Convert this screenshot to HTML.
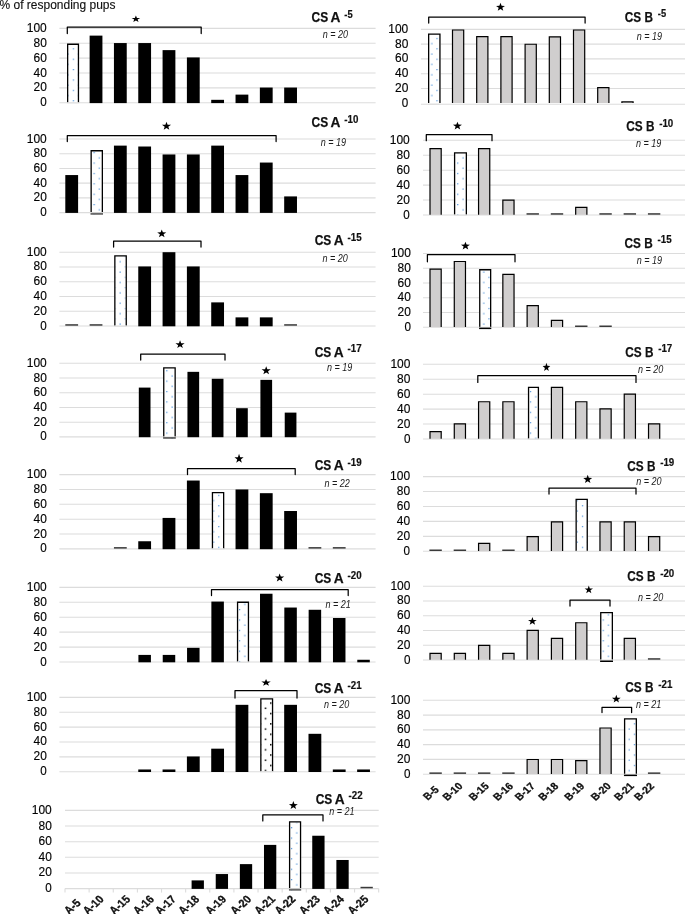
<!DOCTYPE html>
<html lang="en"><head><meta charset="utf-8"><title>% of responding pups</title>
<style>
html,body{margin:0;padding:0;background:#fff}
body{width:685px;height:914px;overflow:hidden}
svg{display:block;will-change:transform}
text{font-family:"Liberation Sans", sans-serif;fill:#111}
.g{stroke:#dcdcdc;stroke-width:1.1;fill:none}
.br{stroke:#000;stroke-width:1.25;fill:none;stroke-linejoin:round;stroke-linecap:round}
.bb{fill:#000}
.gb{fill:#d0cece;stroke:#000;stroke-width:1.2;stroke-linejoin:miter}
.tb{fill:#3a3a3a}
.ds{stroke:#000;stroke-width:1.3;fill:none;stroke-linejoin:miter}
.yl{font-size:12px;text-anchor:end;fill:#000;stroke:#000;stroke-width:.15}
.tt{font-size:15.1px;font-weight:bold;stroke:#111;stroke-width:.25}
.sp{font-size:10.3px;font-weight:bold;stroke:#111;stroke-width:.2}
.nn{font-size:10.1px;font-style:italic;fill:#1a1a1a}
.xl{font-size:10.2px;font-weight:bold;text-anchor:end;stroke:#111;stroke-width:.3}
.xa{font-size:10.9px}
.star{fill:#000}
</style></head><body>
<svg width="685" height="914" viewBox="0 0 685 914">
<defs>
<pattern id="db" patternUnits="userSpaceOnUse" x="72.75" y="48.25" width="10.39" height="10.385">
<rect x="0" y="0" width="1.2" height="1.2" fill="#4a90d9"/><rect x="5.24" y="5.2" width="1.2" height="1.2" fill="#4a90d9"/>
</pattern>
<pattern id="dk" patternUnits="userSpaceOnUse" x="72.6" y="48.1" width="10.39" height="10.385">
<rect x="0" y="0" width="1.5" height="1.5" fill="#000"/><rect x="5.24" y="5.2" width="1.5" height="1.5" fill="#000"/>
</pattern>
</defs>
<text x="-0.5" y="9" font-size="12px" fill="#000" stroke="#000" stroke-width=".12" textLength="116" lengthAdjust="spacingAndGlyphs">% of responding pups</text>

<g>
<line class="g" x1="59.4" x2="375.6" y1="102.8" y2="102.8"/>
<text class="yl" x="46.8" y="106.3" textLength="6.5" lengthAdjust="spacingAndGlyphs">0</text>
<line class="g" x1="59.4" x2="375.6" y1="87.92" y2="87.92"/>
<text class="yl" x="46.8" y="91.42" textLength="13.3" lengthAdjust="spacingAndGlyphs">20</text>
<line class="g" x1="59.4" x2="375.6" y1="73.04" y2="73.04"/>
<text class="yl" x="46.8" y="76.54" textLength="13.3" lengthAdjust="spacingAndGlyphs">40</text>
<line class="g" x1="59.4" x2="375.6" y1="58.16" y2="58.16"/>
<text class="yl" x="46.8" y="61.66" textLength="13.3" lengthAdjust="spacingAndGlyphs">60</text>
<line class="g" x1="59.4" x2="375.6" y1="43.28" y2="43.28"/>
<text class="yl" x="46.8" y="46.78" textLength="13.3" lengthAdjust="spacingAndGlyphs">80</text>
<line class="g" x1="59.4" x2="375.6" y1="28.4" y2="28.4"/>
<text class="yl" x="46.8" y="31.9" textLength="20" lengthAdjust="spacingAndGlyphs">100</text>
<rect x="67" y="43.6" width="12.1" height="59.2" fill="#fff"/>
<rect x="68.3" y="44.9" width="9.5" height="57.9" fill="url(#db)"/>
<path class="ds" d="M67.65 102.5 V44.25 H78.45 V102.5"/>
<line class="g" x1="67" x2="79.1" y1="102.8" y2="102.8"/>
<rect class="bb" x="89.62" y="35.62" width="12.8" height="67.48"/>
<rect class="bb" x="113.94" y="43.06" width="12.8" height="60.04"/>
<rect class="bb" x="138.26" y="43.06" width="12.8" height="60.04"/>
<rect class="bb" x="162.58" y="50.12" width="12.8" height="52.98"/>
<rect class="bb" x="186.9" y="57.42" width="12.8" height="45.68"/>
<rect class="bb" x="211.22" y="99.82" width="12.8" height="3.28"/>
<rect class="bb" x="235.54" y="94.62" width="12.8" height="8.48"/>
<rect class="bb" x="259.86" y="87.55" width="12.8" height="15.55"/>
<rect class="bb" x="284.18" y="87.55" width="12.8" height="15.55"/>
<path class="br" d="M67.3 33.6 V27.1 H201.2 V33.6"/>
<polygon class="star" points="135.9,15.5 136.96,17.97 140.18,18.02 137.61,19.6 138.55,22.1 135.9,20.61 133.25,22.1 134.19,19.6 131.62,18.02 134.84,17.97"/>
<text class="tt" y="22.2"><tspan x="311.5" textLength="16.6" lengthAdjust="spacingAndGlyphs">CS</tspan> <tspan x="330.6" textLength="9.9" lengthAdjust="spacingAndGlyphs">A</tspan></text>
<text class="sp" x="344.3" y="18" textLength="8.3" lengthAdjust="spacingAndGlyphs">-5</text>
<text class="nn" x="322.8" y="37.8" textLength="25.3" lengthAdjust="spacingAndGlyphs">n = 20</text>
</g>
<g>
<line class="g" x1="59.4" x2="375.6" y1="212.6" y2="212.6"/>
<text class="yl" x="46.8" y="216.1" textLength="6.5" lengthAdjust="spacingAndGlyphs">0</text>
<line class="g" x1="59.4" x2="375.6" y1="197.88" y2="197.88"/>
<text class="yl" x="46.8" y="201.38" textLength="13.3" lengthAdjust="spacingAndGlyphs">20</text>
<line class="g" x1="59.4" x2="375.6" y1="183.16" y2="183.16"/>
<text class="yl" x="46.8" y="186.66" textLength="13.3" lengthAdjust="spacingAndGlyphs">40</text>
<line class="g" x1="59.4" x2="375.6" y1="168.44" y2="168.44"/>
<text class="yl" x="46.8" y="171.94" textLength="13.3" lengthAdjust="spacingAndGlyphs">60</text>
<line class="g" x1="59.4" x2="375.6" y1="153.72" y2="153.72"/>
<text class="yl" x="46.8" y="157.22" textLength="13.3" lengthAdjust="spacingAndGlyphs">80</text>
<line class="g" x1="59.4" x2="375.6" y1="139" y2="139"/>
<text class="yl" x="46.8" y="142.5" textLength="20" lengthAdjust="spacingAndGlyphs">100</text>
<rect class="bb" x="65.3" y="175.06" width="12.8" height="37.84"/>
<rect x="90.5" y="150.1" width="12.5" height="64.7" fill="#fff"/>
<rect x="91.8" y="151.4" width="9.9" height="63.4" fill="url(#db)"/>
<path class="ds" d="M91.15 212 V150.75 H102.35 V212"/>
<line class="g" x1="90.5" x2="103" y1="212.6" y2="212.6"/>
<rect x="90.5" y="212.9" width="12.5" height="1.9" fill="#6a6a6a"/>
<rect class="bb" x="113.94" y="145.62" width="12.8" height="67.28"/>
<rect class="bb" x="138.26" y="146.51" width="12.8" height="66.39"/>
<rect class="bb" x="162.58" y="154.46" width="12.8" height="58.44"/>
<rect class="bb" x="186.9" y="154.46" width="12.8" height="58.44"/>
<rect class="bb" x="211.22" y="145.62" width="12.8" height="67.28"/>
<rect class="bb" x="235.54" y="175.06" width="12.8" height="37.84"/>
<rect class="bb" x="259.86" y="162.55" width="12.8" height="50.35"/>
<rect class="bb" x="284.18" y="196.41" width="12.8" height="16.49"/>
<path class="br" d="M67.3 141.6 V135.6 H276.1 V141.6"/>
<polygon class="star" points="166.5,121.73 167.62,124.77 171.05,124.84 168.32,126.79 169.31,129.87 166.5,128.03 163.69,129.87 164.68,126.79 161.95,124.84 165.38,124.77"/>
<text class="tt" y="127.3"><tspan x="311.5" textLength="16.6" lengthAdjust="spacingAndGlyphs">CS</tspan> <tspan x="330.6" textLength="9.9" lengthAdjust="spacingAndGlyphs">A</tspan></text>
<text class="sp" x="344.3" y="123.1" textLength="14.1" lengthAdjust="spacingAndGlyphs">-10</text>
<text class="nn" x="320.8" y="145.7" textLength="25.3" lengthAdjust="spacingAndGlyphs">n = 19</text>
</g>
<g>
<line class="g" x1="59.4" x2="375.6" y1="326" y2="326"/>
<text class="yl" x="46.8" y="329.5" textLength="6.5" lengthAdjust="spacingAndGlyphs">0</text>
<line class="g" x1="59.4" x2="375.6" y1="311.24" y2="311.24"/>
<text class="yl" x="46.8" y="314.74" textLength="13.3" lengthAdjust="spacingAndGlyphs">20</text>
<line class="g" x1="59.4" x2="375.6" y1="296.48" y2="296.48"/>
<text class="yl" x="46.8" y="299.98" textLength="13.3" lengthAdjust="spacingAndGlyphs">40</text>
<line class="g" x1="59.4" x2="375.6" y1="281.72" y2="281.72"/>
<text class="yl" x="46.8" y="285.22" textLength="13.3" lengthAdjust="spacingAndGlyphs">60</text>
<line class="g" x1="59.4" x2="375.6" y1="266.96" y2="266.96"/>
<text class="yl" x="46.8" y="270.46" textLength="13.3" lengthAdjust="spacingAndGlyphs">80</text>
<line class="g" x1="59.4" x2="375.6" y1="252.2" y2="252.2"/>
<text class="yl" x="46.8" y="255.7" textLength="20" lengthAdjust="spacingAndGlyphs">100</text>
<rect class="tb" x="65.3" y="324.2" width="12.8" height="1.5"/>
<rect class="tb" x="89.62" y="324.2" width="12.8" height="1.5"/>
<rect x="114.2" y="255.25" width="12.7" height="70.75" fill="#fff"/>
<rect x="115.5" y="256.55" width="10.1" height="69.45" fill="url(#db)"/>
<path class="ds" d="M114.85 325.7 V255.9 H126.25 V325.7"/>
<line class="g" x1="114.2" x2="126.9" y1="326" y2="326"/>
<rect class="bb" x="138.26" y="266.44" width="12.8" height="59.86"/>
<rect class="bb" x="162.58" y="252.2" width="12.8" height="74.1"/>
<rect class="bb" x="186.9" y="266.44" width="12.8" height="59.86"/>
<rect class="bb" x="211.22" y="302.38" width="12.8" height="23.92"/>
<rect class="bb" x="235.54" y="317.37" width="12.8" height="8.93"/>
<rect class="bb" x="259.86" y="317.37" width="12.8" height="8.93"/>
<rect class="tb" x="284.18" y="324.2" width="12.8" height="1.5"/>
<path class="br" d="M113.6 247 V241 H201 V247"/>
<polygon class="star" points="161.75,229.45 162.87,232.33 166.3,232.39 163.57,234.23 164.56,237.15 161.75,235.41 158.94,237.15 159.93,234.23 157.2,232.39 160.63,232.33"/>
<text class="tt" y="245.3"><tspan x="314.7" textLength="16.6" lengthAdjust="spacingAndGlyphs">CS</tspan> <tspan x="333.8" textLength="9.9" lengthAdjust="spacingAndGlyphs">A</tspan></text>
<text class="sp" x="347.5" y="241.1" textLength="14.1" lengthAdjust="spacingAndGlyphs">-15</text>
<text class="nn" x="322.5" y="262" textLength="25.3" lengthAdjust="spacingAndGlyphs">n = 20</text>
</g>
<g>
<line class="g" x1="59.4" x2="375.6" y1="436.9" y2="436.9"/>
<text class="yl" x="46.8" y="440.4" textLength="6.5" lengthAdjust="spacingAndGlyphs">0</text>
<line class="g" x1="59.4" x2="375.6" y1="422.18" y2="422.18"/>
<text class="yl" x="46.8" y="425.68" textLength="13.3" lengthAdjust="spacingAndGlyphs">20</text>
<line class="g" x1="59.4" x2="375.6" y1="407.46" y2="407.46"/>
<text class="yl" x="46.8" y="410.96" textLength="13.3" lengthAdjust="spacingAndGlyphs">40</text>
<line class="g" x1="59.4" x2="375.6" y1="392.74" y2="392.74"/>
<text class="yl" x="46.8" y="396.24" textLength="13.3" lengthAdjust="spacingAndGlyphs">60</text>
<line class="g" x1="59.4" x2="375.6" y1="378.02" y2="378.02"/>
<text class="yl" x="46.8" y="381.52" textLength="13.3" lengthAdjust="spacingAndGlyphs">80</text>
<line class="g" x1="59.4" x2="375.6" y1="363.3" y2="363.3"/>
<text class="yl" x="46.8" y="366.8" textLength="20" lengthAdjust="spacingAndGlyphs">100</text>
<rect class="bb" x="138.81" y="387.59" width="11.7" height="49.61"/>
<rect x="163.1" y="367.2" width="12.7" height="71.5" fill="#fff"/>
<rect x="164.4" y="368.5" width="10.1" height="70.2" fill="url(#db)"/>
<path class="ds" d="M163.75 436.7 V367.85 H175.15 V436.7"/>
<line class="g" x1="163.1" x2="175.8" y1="436.9" y2="436.9" opacity=".8"/>
<rect x="163.1" y="437.2" width="12.7" height="1.5" fill="#444"/>
<rect class="bb" x="187.45" y="371.84" width="11.7" height="65.36"/>
<rect class="bb" x="211.77" y="378.76" width="11.7" height="58.44"/>
<rect class="bb" x="236.09" y="408.2" width="11.7" height="29"/>
<rect class="bb" x="260.41" y="379.86" width="11.7" height="57.34"/>
<rect class="bb" x="284.73" y="412.61" width="11.7" height="24.59"/>
<path class="br" d="M140.7 360 V354 H225 V360"/>
<polygon class="star" points="180.05,340.31 181.19,343.22 184.65,343.28 181.89,345.14 182.89,348.09 180.05,346.33 177.21,348.09 178.21,345.14 175.45,343.28 178.91,343.22"/>
<polygon class="star" points="266.2,366.37 267.34,369.31 270.81,369.37 268.05,371.25 269.05,374.23 266.2,372.46 263.35,374.23 264.35,371.25 261.59,369.37 265.06,369.31"/>
<text class="tt" y="356.5"><tspan x="314.7" textLength="16.6" lengthAdjust="spacingAndGlyphs">CS</tspan> <tspan x="333.8" textLength="9.9" lengthAdjust="spacingAndGlyphs">A</tspan></text>
<text class="sp" x="347.5" y="352.3" textLength="14.1" lengthAdjust="spacingAndGlyphs">-17</text>
<text class="nn" x="327" y="371" textLength="25.3" lengthAdjust="spacingAndGlyphs">n = 19</text>
</g>
<g>
<line class="g" x1="59.4" x2="375.6" y1="548.9" y2="548.9"/>
<text class="yl" x="46.8" y="552.4" textLength="6.5" lengthAdjust="spacingAndGlyphs">0</text>
<line class="g" x1="59.4" x2="375.6" y1="534.04" y2="534.04"/>
<text class="yl" x="46.8" y="537.54" textLength="13.3" lengthAdjust="spacingAndGlyphs">20</text>
<line class="g" x1="59.4" x2="375.6" y1="519.18" y2="519.18"/>
<text class="yl" x="46.8" y="522.68" textLength="13.3" lengthAdjust="spacingAndGlyphs">40</text>
<line class="g" x1="59.4" x2="375.6" y1="504.32" y2="504.32"/>
<text class="yl" x="46.8" y="507.82" textLength="13.3" lengthAdjust="spacingAndGlyphs">60</text>
<line class="g" x1="59.4" x2="375.6" y1="489.46" y2="489.46"/>
<text class="yl" x="46.8" y="492.96" textLength="13.3" lengthAdjust="spacingAndGlyphs">80</text>
<line class="g" x1="59.4" x2="375.6" y1="474.6" y2="474.6"/>
<text class="yl" x="46.8" y="478.1" textLength="20" lengthAdjust="spacingAndGlyphs">100</text>
<rect class="tb" x="113.94" y="547.1" width="12.8" height="1.5"/>
<rect class="bb" x="138.26" y="541.25" width="12.8" height="7.95"/>
<rect class="bb" x="162.58" y="517.92" width="12.8" height="31.28"/>
<rect class="bb" x="186.9" y="480.54" width="12.8" height="68.66"/>
<rect x="211.8" y="492" width="12.5" height="56.9" fill="#fff"/>
<rect x="213.1" y="493.3" width="9.9" height="55.6" fill="url(#db)"/>
<path class="ds" d="M212.45 548.6 V492.65 H223.65 V548.6"/>
<line class="g" x1="211.8" x2="224.3" y1="548.9" y2="548.9"/>
<rect class="bb" x="235.54" y="489.46" width="12.8" height="59.74"/>
<rect class="bb" x="259.86" y="493.18" width="12.8" height="56.02"/>
<rect class="bb" x="284.18" y="511.01" width="12.8" height="38.19"/>
<rect class="tb" x="308.5" y="547.1" width="12.8" height="1.5"/>
<rect class="tb" x="332.82" y="547.1" width="12.8" height="1.5"/>
<path class="br" d="M187.5 474.5 V468.5 H295.2 V474.5"/>
<polygon class="star" points="239.05,453.78 240.17,457.16 243.6,457.23 240.87,459.4 241.86,462.82 239.05,460.78 236.24,462.82 237.23,459.4 234.5,457.23 237.93,457.16"/>
<text class="tt" y="469.8"><tspan x="314.7" textLength="16.6" lengthAdjust="spacingAndGlyphs">CS</tspan> <tspan x="333.8" textLength="9.9" lengthAdjust="spacingAndGlyphs">A</tspan></text>
<text class="sp" x="347.5" y="465.6" textLength="14.1" lengthAdjust="spacingAndGlyphs">-19</text>
<text class="nn" x="324.5" y="486.5" textLength="25.3" lengthAdjust="spacingAndGlyphs">n = 22</text>
</g>
<g>
<line class="g" x1="59.4" x2="375.6" y1="662" y2="662"/>
<text class="yl" x="46.8" y="665.5" textLength="6.5" lengthAdjust="spacingAndGlyphs">0</text>
<line class="g" x1="59.4" x2="375.6" y1="647.08" y2="647.08"/>
<text class="yl" x="46.8" y="650.58" textLength="13.3" lengthAdjust="spacingAndGlyphs">20</text>
<line class="g" x1="59.4" x2="375.6" y1="632.16" y2="632.16"/>
<text class="yl" x="46.8" y="635.66" textLength="13.3" lengthAdjust="spacingAndGlyphs">40</text>
<line class="g" x1="59.4" x2="375.6" y1="617.24" y2="617.24"/>
<text class="yl" x="46.8" y="620.74" textLength="13.3" lengthAdjust="spacingAndGlyphs">60</text>
<line class="g" x1="59.4" x2="375.6" y1="602.32" y2="602.32"/>
<text class="yl" x="46.8" y="605.82" textLength="13.3" lengthAdjust="spacingAndGlyphs">80</text>
<line class="g" x1="59.4" x2="375.6" y1="587.4" y2="587.4"/>
<text class="yl" x="46.8" y="590.9" textLength="20" lengthAdjust="spacingAndGlyphs">100</text>
<rect class="bb" x="138.41" y="654.91" width="12.5" height="7.39"/>
<rect class="bb" x="162.73" y="654.91" width="12.5" height="7.39"/>
<rect class="bb" x="187.05" y="647.83" width="12.5" height="14.47"/>
<rect class="bb" x="211.37" y="601.57" width="12.5" height="60.73"/>
<rect x="236.9" y="601.6" width="12.2" height="60.4" fill="#fff"/>
<rect x="238.2" y="602.9" width="9.6" height="59.1" fill="url(#db)"/>
<path class="ds" d="M237.55 661.7 V602.25 H248.45 V661.7"/>
<line class="g" x1="236.9" x2="249.1" y1="662" y2="662"/>
<rect class="bb" x="260.01" y="593.74" width="12.5" height="68.56"/>
<rect class="bb" x="284.33" y="607.54" width="12.5" height="54.76"/>
<rect class="bb" x="308.65" y="609.78" width="12.5" height="52.52"/>
<rect class="bb" x="332.97" y="617.99" width="12.5" height="44.31"/>
<rect class="bb" x="357.29" y="659.76" width="12.5" height="2.54"/>
<path class="br" d="M211.5 595.5 V589.5 H348.2 V595.5"/>
<polygon class="star" points="279.65,573.43 280.79,576.47 284.25,576.54 281.49,578.49 282.49,581.57 279.65,579.73 276.81,581.57 277.81,578.49 275.05,576.54 278.51,576.47"/>
<text class="tt" y="583.3"><tspan x="314.7" textLength="16.6" lengthAdjust="spacingAndGlyphs">CS</tspan> <tspan x="333.8" textLength="9.9" lengthAdjust="spacingAndGlyphs">A</tspan></text>
<text class="sp" x="347.5" y="579.1" textLength="14.1" lengthAdjust="spacingAndGlyphs">-20</text>
<text class="nn" x="325.5" y="607.5" textLength="25.3" lengthAdjust="spacingAndGlyphs">n = 21</text>
</g>
<g>
<line class="g" x1="59.4" x2="375.6" y1="771.7" y2="771.7"/>
<text class="yl" x="46.8" y="775.2" textLength="6.5" lengthAdjust="spacingAndGlyphs">0</text>
<line class="g" x1="59.4" x2="375.6" y1="756.84" y2="756.84"/>
<text class="yl" x="46.8" y="760.34" textLength="13.3" lengthAdjust="spacingAndGlyphs">20</text>
<line class="g" x1="59.4" x2="375.6" y1="741.98" y2="741.98"/>
<text class="yl" x="46.8" y="745.48" textLength="13.3" lengthAdjust="spacingAndGlyphs">40</text>
<line class="g" x1="59.4" x2="375.6" y1="727.12" y2="727.12"/>
<text class="yl" x="46.8" y="730.62" textLength="13.3" lengthAdjust="spacingAndGlyphs">60</text>
<line class="g" x1="59.4" x2="375.6" y1="712.26" y2="712.26"/>
<text class="yl" x="46.8" y="715.76" textLength="13.3" lengthAdjust="spacingAndGlyphs">80</text>
<line class="g" x1="59.4" x2="375.6" y1="697.4" y2="697.4"/>
<text class="yl" x="46.8" y="700.9" textLength="20" lengthAdjust="spacingAndGlyphs">100</text>
<rect class="bb" x="138.26" y="769.47" width="12.8" height="2.53"/>
<rect class="bb" x="162.58" y="769.47" width="12.8" height="2.53"/>
<rect class="bb" x="186.9" y="756.47" width="12.8" height="15.53"/>
<rect class="bb" x="211.22" y="748.67" width="12.8" height="23.33"/>
<rect class="bb" x="235.54" y="704.83" width="12.8" height="67.17"/>
<rect x="260.2" y="698.2" width="13" height="73.5" fill="#fff"/>
<rect x="261.5" y="699.5" width="10.4" height="72.2" fill="url(#dk)"/>
<path class="ds" d="M260.85 771.4 V698.85 H272.55 V771.4"/>
<line class="g" x1="260.2" x2="273.2" y1="771.7" y2="771.7"/>
<rect class="bb" x="284.18" y="704.83" width="12.8" height="67.17"/>
<rect class="bb" x="308.5" y="733.81" width="12.8" height="38.19"/>
<rect class="bb" x="332.82" y="769.47" width="12.8" height="2.53"/>
<rect class="bb" x="357.14" y="769.47" width="12.8" height="2.53"/>
<path class="br" d="M235 698 V690.7 H297 V698"/>
<polygon class="star" points="266.05,678.96 267.23,681.53 270.81,681.59 267.95,683.23 268.99,685.84 266.05,684.28 263.11,685.84 264.15,683.23 261.29,681.59 264.87,681.53"/>
<text class="tt" y="693.3"><tspan x="314.7" textLength="16.6" lengthAdjust="spacingAndGlyphs">CS</tspan> <tspan x="333.8" textLength="9.9" lengthAdjust="spacingAndGlyphs">A</tspan></text>
<text class="sp" x="347.5" y="689.1" textLength="14.1" lengthAdjust="spacingAndGlyphs">-21</text>
<text class="nn" x="324" y="708" textLength="25.3" lengthAdjust="spacingAndGlyphs">n = 20</text>
</g>
<g>
<line class="g" x1="65" x2="378.7" y1="888.6" y2="888.6"/>
<text class="yl" x="51.8" y="892.1" textLength="6.5" lengthAdjust="spacingAndGlyphs">0</text>
<line class="g" x1="65" x2="378.7" y1="872.96" y2="872.96"/>
<text class="yl" x="51.8" y="876.46" textLength="13.3" lengthAdjust="spacingAndGlyphs">20</text>
<line class="g" x1="65" x2="378.7" y1="857.32" y2="857.32"/>
<text class="yl" x="51.8" y="860.82" textLength="13.3" lengthAdjust="spacingAndGlyphs">40</text>
<line class="g" x1="65" x2="378.7" y1="841.68" y2="841.68"/>
<text class="yl" x="51.8" y="845.18" textLength="13.3" lengthAdjust="spacingAndGlyphs">60</text>
<line class="g" x1="65" x2="378.7" y1="826.04" y2="826.04"/>
<text class="yl" x="51.8" y="829.54" textLength="13.3" lengthAdjust="spacingAndGlyphs">80</text>
<line class="g" x1="65" x2="378.7" y1="810.4" y2="810.4"/>
<text class="yl" x="51.8" y="813.9" textLength="20" lengthAdjust="spacingAndGlyphs">100</text>
<line class="g" x1="65" x2="65" y1="888.6" y2="892.6"/>
<line class="g" x1="89.13" x2="89.13" y1="888.6" y2="892.6"/>
<line class="g" x1="113.26" x2="113.26" y1="888.6" y2="892.6"/>
<line class="g" x1="137.39" x2="137.39" y1="888.6" y2="892.6"/>
<line class="g" x1="161.52" x2="161.52" y1="888.6" y2="892.6"/>
<line class="g" x1="185.65" x2="185.65" y1="888.6" y2="892.6"/>
<line class="g" x1="209.78" x2="209.78" y1="888.6" y2="892.6"/>
<line class="g" x1="233.91" x2="233.91" y1="888.6" y2="892.6"/>
<line class="g" x1="258.04" x2="258.04" y1="888.6" y2="892.6"/>
<line class="g" x1="282.17" x2="282.17" y1="888.6" y2="892.6"/>
<line class="g" x1="306.3" x2="306.3" y1="888.6" y2="892.6"/>
<line class="g" x1="330.43" x2="330.43" y1="888.6" y2="892.6"/>
<line class="g" x1="354.56" x2="354.56" y1="888.6" y2="892.6"/>
<line class="g" x1="378.69" x2="378.69" y1="888.6" y2="892.6"/>
<rect class="bb" x="191.6" y="880.39" width="12.3" height="8.51"/>
<rect class="bb" x="215.73" y="874.05" width="12.3" height="14.85"/>
<rect class="bb" x="239.86" y="864.12" width="12.3" height="24.78"/>
<rect class="bb" x="263.99" y="844.89" width="12.3" height="44.01"/>
<rect x="288.95" y="821.2" width="12.25" height="69.5" fill="#fff"/>
<rect x="290.25" y="822.5" width="9.65" height="68.2" fill="url(#db)"/>
<path class="ds" d="M289.6 888 V821.85 H300.55 V888"/>
<line class="g" x1="288.95" x2="301.2" y1="888.6" y2="888.6"/>
<rect x="288.95" y="888.8" width="12.25" height="1.9" fill="#6a6a6a"/>
<rect class="bb" x="312.25" y="835.74" width="12.3" height="53.16"/>
<rect class="bb" x="336.38" y="859.98" width="12.3" height="28.92"/>
<rect class="tb" x="360.51" y="886.8" width="12.3" height="1.5"/>
<path class="br" d="M262.8 820.9 V814.9 H323 V820.9"/>
<polygon class="star" points="293.35,801.12 294.46,804.1 297.82,804.16 295.14,806.06 296.11,809.08 293.35,807.28 290.59,809.08 291.56,806.06 288.88,804.16 292.24,804.1"/>
<text class="tt" y="803.6"><tspan x="315.7" textLength="16.6" lengthAdjust="spacingAndGlyphs">CS</tspan> <tspan x="334.8" textLength="9.9" lengthAdjust="spacingAndGlyphs">A</tspan></text>
<text class="sp" x="348.5" y="799.4" textLength="14.1" lengthAdjust="spacingAndGlyphs">-22</text>
<text class="nn" x="329.2" y="815.2" textLength="25.3" lengthAdjust="spacingAndGlyphs">n = 21</text>
<text class="xl xa" transform="translate(81.4 903.8) scale(1.12 1) rotate(-45)" textLength="15.6" lengthAdjust="spacingAndGlyphs">A-5</text>
<text class="xl xa" transform="translate(104.55 900) scale(1.12 1) rotate(-45)" textLength="21.2" lengthAdjust="spacingAndGlyphs">A-10</text>
<text class="xl xa" transform="translate(130.95 900) scale(1.12 1) rotate(-45)" textLength="21.2" lengthAdjust="spacingAndGlyphs">A-15</text>
<text class="xl xa" transform="translate(154.85 900) scale(1.12 1) rotate(-45)" textLength="21.2" lengthAdjust="spacingAndGlyphs">A-16</text>
<text class="xl xa" transform="translate(176.75 900) scale(1.12 1) rotate(-45)" textLength="21.2" lengthAdjust="spacingAndGlyphs">A-17</text>
<text class="xl xa" transform="translate(200.05 900) scale(1.12 1) rotate(-45)" textLength="21.2" lengthAdjust="spacingAndGlyphs">A-18</text>
<text class="xl xa" transform="translate(226.95 900) scale(1.12 1) rotate(-45)" textLength="21.2" lengthAdjust="spacingAndGlyphs">A-19</text>
<text class="xl xa" transform="translate(252.15 900) scale(1.12 1) rotate(-45)" textLength="21.2" lengthAdjust="spacingAndGlyphs">A-20</text>
<text class="xl xa" transform="translate(275.95 900) scale(1.12 1) rotate(-45)" textLength="21.2" lengthAdjust="spacingAndGlyphs">A-21</text>
<text class="xl xa" transform="translate(296.35 900) scale(1.12 1) rotate(-45)" textLength="21.2" lengthAdjust="spacingAndGlyphs">A-22</text>
<text class="xl xa" transform="translate(320.75 900) scale(1.12 1) rotate(-45)" textLength="21.2" lengthAdjust="spacingAndGlyphs">A-23</text>
<text class="xl xa" transform="translate(344.85 900) scale(1.12 1) rotate(-45)" textLength="21.2" lengthAdjust="spacingAndGlyphs">A-24</text>
<text class="xl xa" transform="translate(369.25 900) scale(1.12 1) rotate(-45)" textLength="21.2" lengthAdjust="spacingAndGlyphs">A-25</text>
</g>
<g>
<line class="g" x1="420.9" x2="685.5" y1="104.2" y2="104.2"/>
<text class="yl" x="408.3" y="106.7" textLength="6.5" lengthAdjust="spacingAndGlyphs">0</text>
<line class="g" x1="420.9" x2="685.5" y1="88.44" y2="88.44"/>
<text class="yl" x="408.3" y="91.94" textLength="13.3" lengthAdjust="spacingAndGlyphs">20</text>
<line class="g" x1="420.9" x2="685.5" y1="73.68" y2="73.68"/>
<text class="yl" x="408.3" y="77.18" textLength="13.3" lengthAdjust="spacingAndGlyphs">40</text>
<line class="g" x1="420.9" x2="685.5" y1="58.92" y2="58.92"/>
<text class="yl" x="408.3" y="62.42" textLength="13.3" lengthAdjust="spacingAndGlyphs">60</text>
<line class="g" x1="420.9" x2="685.5" y1="44.16" y2="44.16"/>
<text class="yl" x="408.3" y="47.66" textLength="13.3" lengthAdjust="spacingAndGlyphs">80</text>
<line class="g" x1="420.9" x2="685.5" y1="29.4" y2="29.4"/>
<text class="yl" x="408.3" y="32.9" textLength="20" lengthAdjust="spacingAndGlyphs">100</text>
<rect x="428" y="33.4" width="12.6" height="69.8" fill="#fff"/>
<rect x="429.3" y="34.7" width="10" height="68.5" fill="url(#db)"/>
<path class="ds" d="M428.65 102.9 V34.05 H439.95 V102.9"/>
<line class="g" x1="428" x2="440.6" y1="104.2" y2="104.2"/>
<path class="gb" d="M452.5 103 V30 H463.7 V103"/>
<path class="gb" d="M476.7 103 V36.64 H487.9 V103"/>
<path class="gb" d="M500.9 103 V36.64 H512.1 V103"/>
<path class="gb" d="M525.1 103 V44.24 H536.3 V103"/>
<path class="gb" d="M549.3 103 V36.79 H560.5 V103"/>
<path class="gb" d="M573.5 103 V30 H584.7 V103"/>
<path class="gb" d="M597.7 103 V87.56 H608.9 V103"/>
<path class="gb" d="M621.9 103 V101.88 H633.1 V103"/>
<path class="br" d="M428.7 23 V17 H585.1 V23"/>
<polygon class="star" points="500.5,2.87 501.61,5.85 504.97,5.91 502.29,7.81 503.26,10.83 500.5,9.03 497.74,10.83 498.71,7.81 496.03,5.91 499.39,5.85"/>
<text class="tt" y="21.9"><tspan x="624.8" textLength="16.4" lengthAdjust="spacingAndGlyphs">CS</tspan> <tspan x="644.6" textLength="8.5" lengthAdjust="spacingAndGlyphs">B</tspan></text>
<text class="sp" x="657.8" y="17.4" textLength="8.3" lengthAdjust="spacingAndGlyphs">-5</text>
<text class="nn" x="636.8" y="39.5" textLength="25.3" lengthAdjust="spacingAndGlyphs">n = 19</text>
</g>
<g>
<line class="g" x1="423" x2="685.5" y1="215" y2="215"/>
<text class="yl" x="409.8" y="218.5" textLength="6.5" lengthAdjust="spacingAndGlyphs">0</text>
<line class="g" x1="423" x2="685.5" y1="200.06" y2="200.06"/>
<text class="yl" x="409.8" y="203.56" textLength="13.3" lengthAdjust="spacingAndGlyphs">20</text>
<line class="g" x1="423" x2="685.5" y1="185.12" y2="185.12"/>
<text class="yl" x="409.8" y="188.62" textLength="13.3" lengthAdjust="spacingAndGlyphs">40</text>
<line class="g" x1="423" x2="685.5" y1="170.18" y2="170.18"/>
<text class="yl" x="409.8" y="173.68" textLength="13.3" lengthAdjust="spacingAndGlyphs">60</text>
<line class="g" x1="423" x2="685.5" y1="155.24" y2="155.24"/>
<text class="yl" x="409.8" y="158.74" textLength="13.3" lengthAdjust="spacingAndGlyphs">80</text>
<line class="g" x1="423" x2="685.5" y1="140.3" y2="140.3"/>
<text class="yl" x="409.8" y="143.8" textLength="20" lengthAdjust="spacingAndGlyphs">100</text>
<path class="gb" d="M430 214.8 V148.59 H441.2 V214.8"/>
<rect x="453.95" y="152.2" width="13.05" height="62.8" fill="#fff"/>
<rect x="455.25" y="153.5" width="10.45" height="61.5" fill="url(#db)"/>
<path class="ds" d="M454.6 214.7 V152.85 H466.35 V214.7"/>
<line class="g" x1="453.95" x2="467" y1="215" y2="215"/>
<path class="gb" d="M478.56 214.8 V148.59 H489.76 V214.8"/>
<path class="gb" d="M502.84 214.8 V200.21 H514.04 V214.8"/>
<rect class="tb" x="526.52" y="213.2" width="12.4" height="1.5"/>
<rect class="tb" x="550.8" y="213.2" width="12.4" height="1.5"/>
<path class="gb" d="M575.68 214.8 V207.38 H586.88 V214.8"/>
<rect class="tb" x="599.36" y="213.2" width="12.4" height="1.5"/>
<rect class="tb" x="623.64" y="213.2" width="12.4" height="1.5"/>
<rect class="tb" x="647.92" y="213.2" width="12.4" height="1.5"/>
<path class="br" d="M426.3 140.7 V134.7 H492 V140.7"/>
<polygon class="star" points="457.45,121.65 458.57,124.6 461.97,124.67 459.26,126.56 460.24,129.55 457.45,127.77 454.66,129.55 455.64,126.56 452.93,124.67 456.33,124.6"/>
<text class="tt" y="131.1"><tspan x="626.2" textLength="16.4" lengthAdjust="spacingAndGlyphs">CS</tspan> <tspan x="646" textLength="8.5" lengthAdjust="spacingAndGlyphs">B</tspan></text>
<text class="sp" x="659.2" y="126.6" textLength="14.1" lengthAdjust="spacingAndGlyphs">-10</text>
<text class="nn" x="636" y="146.8" textLength="25.3" lengthAdjust="spacingAndGlyphs">n = 19</text>
</g>
<g>
<line class="g" x1="423" x2="685.5" y1="327.3" y2="327.3"/>
<text class="yl" x="410.9" y="330.8" textLength="6.5" lengthAdjust="spacingAndGlyphs">0</text>
<line class="g" x1="423" x2="685.5" y1="312.54" y2="312.54"/>
<text class="yl" x="410.9" y="316.04" textLength="13.3" lengthAdjust="spacingAndGlyphs">20</text>
<line class="g" x1="423" x2="685.5" y1="297.78" y2="297.78"/>
<text class="yl" x="410.9" y="301.28" textLength="13.3" lengthAdjust="spacingAndGlyphs">40</text>
<line class="g" x1="423" x2="685.5" y1="283.02" y2="283.02"/>
<text class="yl" x="410.9" y="286.52" textLength="13.3" lengthAdjust="spacingAndGlyphs">60</text>
<line class="g" x1="423" x2="685.5" y1="268.26" y2="268.26"/>
<text class="yl" x="410.9" y="271.76" textLength="13.3" lengthAdjust="spacingAndGlyphs">80</text>
<line class="g" x1="423" x2="685.5" y1="253.5" y2="253.5"/>
<text class="yl" x="410.9" y="257" textLength="20" lengthAdjust="spacingAndGlyphs">100</text>
<path class="gb" d="M430 327.1 V269.16 H441.2 V327.1"/>
<path class="gb" d="M454.28 327.1 V261.48 H465.48 V327.1"/>
<rect x="479.1" y="269.1" width="12.2" height="60" fill="#fff"/>
<rect x="480.4" y="270.4" width="9.6" height="58.7" fill="url(#db)"/>
<path class="ds" d="M479.75 327.1 V269.75 H490.65 V327.1"/>
<line class="g" x1="479.1" x2="491.3" y1="327.3" y2="327.3" opacity=".8"/>
<rect x="479.1" y="327.6" width="12.2" height="1.5" fill="#000"/>
<path class="gb" d="M502.84 327.1 V274.47 H514.04 V327.1"/>
<path class="gb" d="M527.12 327.1 V305.54 H538.32 V327.1"/>
<path class="gb" d="M551.4 327.1 V320.3 H562.6 V327.1"/>
<rect class="tb" x="575.08" y="325.5" width="12.4" height="1.5"/>
<rect class="tb" x="599.36" y="325.5" width="12.4" height="1.5"/>
<path class="br" d="M427.4 261.8 V254.6 H515 V261.8"/>
<polygon class="star" points="465.45,241.65 466.57,244.6 469.97,244.67 467.26,246.56 468.24,249.55 465.45,247.77 462.66,249.55 463.64,246.56 460.93,244.67 464.33,244.6"/>
<text class="tt" y="247.8"><tspan x="624.5" textLength="16.4" lengthAdjust="spacingAndGlyphs">CS</tspan> <tspan x="644.3" textLength="8.5" lengthAdjust="spacingAndGlyphs">B</tspan></text>
<text class="sp" x="657.5" y="243.3" textLength="14.1" lengthAdjust="spacingAndGlyphs">-15</text>
<text class="nn" x="636.8" y="264" textLength="25.3" lengthAdjust="spacingAndGlyphs">n = 19</text>
</g>
<g>
<line class="g" x1="423" x2="685.5" y1="439" y2="439"/>
<text class="yl" x="410.4" y="442.5" textLength="6.5" lengthAdjust="spacingAndGlyphs">0</text>
<line class="g" x1="423" x2="685.5" y1="424.06" y2="424.06"/>
<text class="yl" x="410.4" y="427.56" textLength="13.3" lengthAdjust="spacingAndGlyphs">20</text>
<line class="g" x1="423" x2="685.5" y1="409.12" y2="409.12"/>
<text class="yl" x="410.4" y="412.62" textLength="13.3" lengthAdjust="spacingAndGlyphs">40</text>
<line class="g" x1="423" x2="685.5" y1="394.18" y2="394.18"/>
<text class="yl" x="410.4" y="397.68" textLength="13.3" lengthAdjust="spacingAndGlyphs">60</text>
<line class="g" x1="423" x2="685.5" y1="379.24" y2="379.24"/>
<text class="yl" x="410.4" y="382.74" textLength="13.3" lengthAdjust="spacingAndGlyphs">80</text>
<line class="g" x1="423" x2="685.5" y1="364.3" y2="364.3"/>
<text class="yl" x="410.4" y="367.8" textLength="20" lengthAdjust="spacingAndGlyphs">100</text>
<path class="gb" d="M430 438.8 V431.61 H441.2 V438.8"/>
<path class="gb" d="M454.28 438.8 V423.91 H465.48 V438.8"/>
<path class="gb" d="M478.56 438.8 V401.73 H489.76 V438.8"/>
<path class="gb" d="M502.84 438.8 V401.73 H514.04 V438.8"/>
<rect x="527.9" y="386.8" width="11.15" height="52.2" fill="#fff"/>
<rect x="529.2" y="388.1" width="8.55" height="50.9" fill="url(#db)"/>
<path class="ds" d="M528.55 438.7 V387.45 H538.4 V438.7"/>
<line class="g" x1="527.9" x2="539.05" y1="439" y2="439"/>
<path class="gb" d="M551.4 438.8 V387.31 H562.6 V438.8"/>
<path class="gb" d="M575.68 438.8 V401.73 H586.88 V438.8"/>
<path class="gb" d="M599.96 438.8 V408.97 H611.16 V438.8"/>
<path class="gb" d="M624.24 438.8 V394.03 H635.44 V438.8"/>
<path class="gb" d="M648.52 438.8 V423.91 H659.72 V438.8"/>
<path class="br" d="M477.8 382.4 V375.7 H636 V382.4"/>
<polygon class="star" points="546.45,362.83 547.4,365.87 550.3,365.94 547.99,367.89 548.83,370.97 546.45,369.13 544.07,370.97 544.91,367.89 542.6,365.94 545.5,365.87"/>
<text class="tt" y="356.8"><tspan x="625.2" textLength="16.4" lengthAdjust="spacingAndGlyphs">CS</tspan> <tspan x="645" textLength="8.5" lengthAdjust="spacingAndGlyphs">B</tspan></text>
<text class="sp" x="658.2" y="352.3" textLength="14.1" lengthAdjust="spacingAndGlyphs">-17</text>
<text class="nn" x="638" y="372.8" textLength="25.3" lengthAdjust="spacingAndGlyphs">n = 20</text>
</g>
<g>
<line class="g" x1="423" x2="685.5" y1="551.3" y2="551.3"/>
<text class="yl" x="410.1" y="554.8" textLength="6.5" lengthAdjust="spacingAndGlyphs">0</text>
<line class="g" x1="423" x2="685.5" y1="536.36" y2="536.36"/>
<text class="yl" x="410.1" y="539.86" textLength="13.3" lengthAdjust="spacingAndGlyphs">20</text>
<line class="g" x1="423" x2="685.5" y1="521.42" y2="521.42"/>
<text class="yl" x="410.1" y="524.92" textLength="13.3" lengthAdjust="spacingAndGlyphs">40</text>
<line class="g" x1="423" x2="685.5" y1="506.48" y2="506.48"/>
<text class="yl" x="410.1" y="509.98" textLength="13.3" lengthAdjust="spacingAndGlyphs">60</text>
<line class="g" x1="423" x2="685.5" y1="491.54" y2="491.54"/>
<text class="yl" x="410.1" y="495.04" textLength="13.3" lengthAdjust="spacingAndGlyphs">80</text>
<line class="g" x1="423" x2="685.5" y1="476.6" y2="476.6"/>
<text class="yl" x="410.1" y="480.1" textLength="20" lengthAdjust="spacingAndGlyphs">100</text>
<rect class="tb" x="429.4" y="549.5" width="12.4" height="1.5"/>
<rect class="tb" x="453.68" y="549.5" width="12.4" height="1.5"/>
<path class="gb" d="M478.56 551.1 V543.46 H489.76 V551.1"/>
<rect class="tb" x="502.24" y="549.5" width="12.4" height="1.5"/>
<path class="gb" d="M527.12 551.1 V536.59 H538.32 V551.1"/>
<path class="gb" d="M551.4 551.1 V521.8 H562.6 V551.1"/>
<rect x="575.5" y="498.8" width="12.4" height="52.5" fill="#fff"/>
<rect x="576.8" y="500.1" width="9.8" height="51.2" fill="url(#db)"/>
<path class="ds" d="M576.15 551 V499.45 H587.25 V551"/>
<line class="g" x1="575.5" x2="587.9" y1="551.3" y2="551.3"/>
<path class="gb" d="M599.96 551.1 V521.8 H611.16 V551.1"/>
<path class="gb" d="M624.24 551.1 V521.8 H635.44 V551.1"/>
<path class="gb" d="M648.52 551.1 V536.59 H659.72 V551.1"/>
<path class="br" d="M549 494 V488 H636 V494"/>
<polygon class="star" points="587.7,474.83 588.81,477.87 592.17,477.94 589.49,479.89 590.46,482.97 587.7,481.13 584.94,482.97 585.91,479.89 583.23,477.94 586.59,477.87"/>
<text class="tt" y="470.8"><tspan x="627.2" textLength="16.4" lengthAdjust="spacingAndGlyphs">CS</tspan> <tspan x="647" textLength="8.5" lengthAdjust="spacingAndGlyphs">B</tspan></text>
<text class="sp" x="660.2" y="466.3" textLength="14.1" lengthAdjust="spacingAndGlyphs">-19</text>
<text class="nn" x="636.3" y="484.5" textLength="25.3" lengthAdjust="spacingAndGlyphs">n = 20</text>
</g>
<g>
<line class="g" x1="423" x2="685.5" y1="660" y2="660"/>
<text class="yl" x="410.4" y="663.5" textLength="6.5" lengthAdjust="spacingAndGlyphs">0</text>
<line class="g" x1="423" x2="685.5" y1="645.24" y2="645.24"/>
<text class="yl" x="410.4" y="648.74" textLength="13.3" lengthAdjust="spacingAndGlyphs">20</text>
<line class="g" x1="423" x2="685.5" y1="630.48" y2="630.48"/>
<text class="yl" x="410.4" y="633.98" textLength="13.3" lengthAdjust="spacingAndGlyphs">40</text>
<line class="g" x1="423" x2="685.5" y1="615.72" y2="615.72"/>
<text class="yl" x="410.4" y="619.22" textLength="13.3" lengthAdjust="spacingAndGlyphs">60</text>
<line class="g" x1="423" x2="685.5" y1="600.96" y2="600.96"/>
<text class="yl" x="410.4" y="604.46" textLength="13.3" lengthAdjust="spacingAndGlyphs">80</text>
<line class="g" x1="423" x2="685.5" y1="586.2" y2="586.2"/>
<text class="yl" x="410.4" y="589.7" textLength="20" lengthAdjust="spacingAndGlyphs">100</text>
<path class="gb" d="M430 659.8 V653.44 H441.2 V659.8"/>
<path class="gb" d="M454.28 659.8 V653.44 H465.48 V659.8"/>
<path class="gb" d="M478.56 659.8 V645.32 H489.76 V659.8"/>
<path class="gb" d="M502.84 659.8 V653.44 H514.04 V659.8"/>
<path class="gb" d="M527.12 659.8 V630.34 H538.32 V659.8"/>
<path class="gb" d="M551.4 659.8 V638.46 H562.6 V659.8"/>
<path class="gb" d="M575.68 659.8 V622.74 H586.88 V659.8"/>
<rect x="600.1" y="612" width="12.9" height="50" fill="#fff"/>
<rect x="601.4" y="613.3" width="10.3" height="48.7" fill="url(#db)"/>
<path class="ds" d="M600.75 659.8 V612.65 H612.35 V659.8"/>
<line class="g" x1="600.1" x2="613" y1="660" y2="660" opacity=".8"/>
<rect x="600.1" y="660.5" width="12.9" height="1.5" fill="#000"/>
<path class="gb" d="M624.24 659.8 V638.46 H635.44 V659.8"/>
<rect class="tb" x="647.92" y="658.2" width="12.4" height="1.5"/>
<path class="br" d="M570 606 V600 H610 V606"/>
<polygon class="star" points="588.8,585.6 589.83,588.44 592.98,588.5 590.47,590.32 591.39,593.2 588.8,591.48 586.21,593.2 587.13,590.32 584.62,588.5 587.77,588.44"/>
<polygon class="star" points="532.4,617.1 533.48,619.94 536.77,620 534.15,621.82 535.1,624.7 532.4,622.98 529.7,624.7 530.65,621.82 528.03,620 531.32,619.94"/>
<text class="tt" y="581.3"><tspan x="627.2" textLength="16.4" lengthAdjust="spacingAndGlyphs">CS</tspan> <tspan x="647" textLength="8.5" lengthAdjust="spacingAndGlyphs">B</tspan></text>
<text class="sp" x="660.2" y="576.8" textLength="14.1" lengthAdjust="spacingAndGlyphs">-20</text>
<text class="nn" x="638" y="601" textLength="25.3" lengthAdjust="spacingAndGlyphs">n = 20</text>
</g>
<g>
<line class="g" x1="423" x2="685.5" y1="774.2" y2="774.2"/>
<text class="yl" x="410.4" y="777.7" textLength="6.5" lengthAdjust="spacingAndGlyphs">0</text>
<line class="g" x1="423" x2="685.5" y1="759.42" y2="759.42"/>
<text class="yl" x="410.4" y="762.92" textLength="13.3" lengthAdjust="spacingAndGlyphs">20</text>
<line class="g" x1="423" x2="685.5" y1="744.64" y2="744.64"/>
<text class="yl" x="410.4" y="748.14" textLength="13.3" lengthAdjust="spacingAndGlyphs">40</text>
<line class="g" x1="423" x2="685.5" y1="729.86" y2="729.86"/>
<text class="yl" x="410.4" y="733.36" textLength="13.3" lengthAdjust="spacingAndGlyphs">60</text>
<line class="g" x1="423" x2="685.5" y1="715.08" y2="715.08"/>
<text class="yl" x="410.4" y="718.58" textLength="13.3" lengthAdjust="spacingAndGlyphs">80</text>
<line class="g" x1="423" x2="685.5" y1="700.3" y2="700.3"/>
<text class="yl" x="410.4" y="703.8" textLength="20" lengthAdjust="spacingAndGlyphs">100</text>
<rect class="tb" x="429.4" y="772.4" width="12.4" height="1.5"/>
<rect class="tb" x="453.68" y="772.4" width="12.4" height="1.5"/>
<rect class="tb" x="477.96" y="772.4" width="12.4" height="1.5"/>
<rect class="tb" x="502.24" y="772.4" width="12.4" height="1.5"/>
<path class="gb" d="M527.12 774 V759.5 H538.32 V774"/>
<path class="gb" d="M551.4 774 V759.5 H562.6 V774"/>
<path class="gb" d="M575.68 774 V760.54 H586.88 V774"/>
<path class="gb" d="M599.96 774 V728.02 H611.16 V774"/>
<rect x="623.95" y="718.25" width="13.05" height="57.85" fill="#fff"/>
<rect x="625.25" y="719.55" width="10.45" height="56.55" fill="url(#db)"/>
<path class="ds" d="M624.6 774 V718.9 H636.35 V774"/>
<line class="g" x1="623.95" x2="637" y1="774.2" y2="774.2" opacity=".8"/>
<rect x="623.95" y="774.6" width="13.05" height="1.5" fill="#000"/>
<rect class="tb" x="647.92" y="772.4" width="12.4" height="1.5"/>
<path class="br" d="M602 712.5 V707.3 H631.6 V712.5"/>
<polygon class="star" points="616.3,694.81 617.38,697.72 620.67,697.78 618.05,699.64 619,702.59 616.3,700.83 613.6,702.59 614.55,699.64 611.93,697.78 615.22,697.72"/>
<text class="tt" y="692.4"><tspan x="625.3" textLength="16.4" lengthAdjust="spacingAndGlyphs">CS</tspan> <tspan x="645.1" textLength="8.5" lengthAdjust="spacingAndGlyphs">B</tspan></text>
<text class="sp" x="658.3" y="687.9" textLength="14.1" lengthAdjust="spacingAndGlyphs">-21</text>
<text class="nn" x="636" y="707.6" textLength="25.3" lengthAdjust="spacingAndGlyphs">n = 21</text>
<text class="xl" transform="translate(439.45 790.3) scale(1.12 1) rotate(-45)" textLength="14.8" lengthAdjust="spacingAndGlyphs">B-5</text>
<text class="xl" transform="translate(463.3 786.8) scale(1.12 1) rotate(-45)" textLength="20.3" lengthAdjust="spacingAndGlyphs">B-10</text>
<text class="xl" transform="translate(489.5 786.8) scale(1.12 1) rotate(-45)" textLength="20.3" lengthAdjust="spacingAndGlyphs">B-15</text>
<text class="xl" transform="translate(513.8 786.8) scale(1.12 1) rotate(-45)" textLength="20.3" lengthAdjust="spacingAndGlyphs">B-16</text>
<text class="xl" transform="translate(535.5 786.8) scale(1.12 1) rotate(-45)" textLength="20.3" lengthAdjust="spacingAndGlyphs">B-17</text>
<text class="xl" transform="translate(559.1 786.8) scale(1.12 1) rotate(-45)" textLength="20.3" lengthAdjust="spacingAndGlyphs">B-18</text>
<text class="xl" transform="translate(585.1 786.8) scale(1.12 1) rotate(-45)" textLength="20.3" lengthAdjust="spacingAndGlyphs">B-19</text>
<text class="xl" transform="translate(611.5 786.8) scale(1.12 1) rotate(-45)" textLength="20.3" lengthAdjust="spacingAndGlyphs">B-20</text>
<text class="xl" transform="translate(634.7 786.8) scale(1.12 1) rotate(-45)" textLength="20.3" lengthAdjust="spacingAndGlyphs">B-21</text>
<text class="xl" transform="translate(654.9 786.8) scale(1.12 1) rotate(-45)" textLength="20.3" lengthAdjust="spacingAndGlyphs">B-22</text>
</g>
</svg></body></html>
